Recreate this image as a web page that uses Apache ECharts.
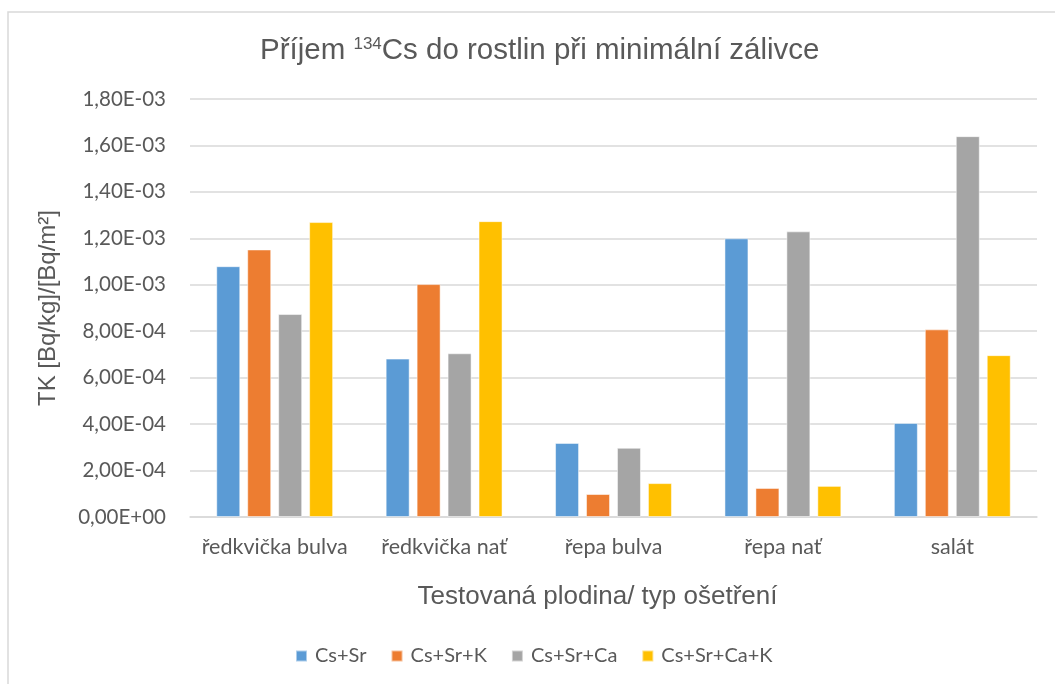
<!DOCTYPE html>
<html>
<head>
<meta charset="utf-8">
<script src="https://cdn.jsdelivr.net/npm/echarts@6/dist/echarts.min.js"></script>
<style>
  html,body{margin:0;padding:0;background:#fff;}
  #chart{width:1055px;height:684px;}
</style>
</head>
<body>
<div id="chart"></div>
<script>
  var categories = ["ředkvička bulva", "ředkvička nať", "řepa bulva", "řepa nať", "salát"];
  var seriesNames = ["Cs+Sr", "Cs+Sr+K", "Cs+Sr+Ca", "Cs+Sr+Ca+K"];
  var csSr = [1.08e-3, 6.82e-4, 3.19e-4, 1.20e-3, 4.05e-4];
  var csSrK = [1.152e-3, 1.003e-3, 9.9e-5, 1.25e-4, 8.08e-4];
  var csSrCa = [8.74e-4, 7.05e-4, 2.98e-4, 1.23e-3, 1.64e-3];
  var csSrCaK = [1.27e-3, 1.274e-3, 1.46e-4, 1.34e-4, 6.97e-4];
  var colors = ["#5b9bd5", "#ed7d31", "#a5a5a5", "#ffc000"];

  var myChart = echarts.init(document.getElementById("chart"));

  // popisky osy y ve formatu 1,80E-03
  function sci(v){
    if(v==0) return "0,00E+00";
    var e = Math.floor(Math.log10(Math.abs(v)) + 1e-9);
    var m = v / Math.pow(10, e);
    var s = m.toFixed(2).replace(".", ",");
    var es = (e < 0 ? "-" : "+") + (Math.abs(e) < 10 ? "0" : "") + Math.abs(e);
    return s + "E" + es;
  }

  var data = [csSr, csSrK, csSrCa, csSrCaK];
  var series = [];
  for(var i=0;i<data.length;i++){
    series.push({
      name: seriesNames[i],
      type: 'bar',
      data: data[i],
      barWidth: 24,
      barGap: '29%',
      itemStyle: {color: colors[i], borderColor: 'rgba(255,255,255,0.5)', borderWidth: 1},
      emphasis: {disabled: true}
    });
  }

  option = {
    animation: false,
    backgroundColor: '#fff',
    title: {
      text: 'Příjem {sup|134}Cs do rostlin při minimální zálivce',
      left: 255,
      top: 31,
      textStyle: {
        fontFamily: 'Liberation Sans',
        fontSize: 29.5,
        fontWeight: 'normal',
        color: '#595959',
        rich: {
          sup: {fontFamily: 'Liberation Sans', fontSize: 17, color: '#595959', verticalAlign: 'top', padding: [0,0,12,0]}
        }
      }
    },
    legend: {
      data: seriesNames,
      bottom: 13,
      left: 290,
      itemWidth: 11,
      itemHeight: 11,
      itemGap: 24,
      icon: 'rect',
      textStyle: {fontFamily: 'Lato', fontSize: 20, color: '#595959', padding: [0,0,0,3]}
    },
    grid: {left: 190, right: 18, top: 99, bottom: 167, containLabel: false},
    xAxis: {
      type: 'category',
      data: categories,
      name: 'Testovaná plodina/ typ ošetření',
      nameLocation: 'middle',
      nameGap: 67,
      nameTextStyle: {fontFamily: 'Liberation Sans', fontSize: 26, color: '#595959', padding: [0,32,0,0]},
      axisLine: {lineStyle: {color: '#d9d9d9', width: 1.5}},
      axisTick: {show: false},
      axisLabel: {interval: 0, fontFamily: 'Lato', fontSize: 21.5, color: '#595959', margin: 19}
    },
    yAxis: {
      type: 'value',
      min: 0,
      max: 1.8e-3,
      interval: 2e-4,
      name: 'TK [Bq/kg]/[Bq/m²]',
      nameLocation: 'middle',
      nameGap: 130,
      nameTextStyle: {fontFamily: 'Liberation Sans', fontSize: 24, color: '#595959'},
      axisLine: {show: false},
      axisTick: {show: false},
      splitLine: {lineStyle: {color: '#d9d9d9', width: 1.5}},
      axisLabel: {fontFamily: 'Lato', fontSize: 20.5, color: '#595959', margin: 24, formatter: sci}
    },
    graphic: [{
      type: 'rect',
      shape: {x: 8, y: 12, width: 1100, height: 700},
      style: {fill: 'none', stroke: '#d9d9d9', lineWidth: 1.5},
      silent: true,
      z: -1
    }],
    series: series
  };

  myChart.setOption(option);
</script>
</body>
</html>
